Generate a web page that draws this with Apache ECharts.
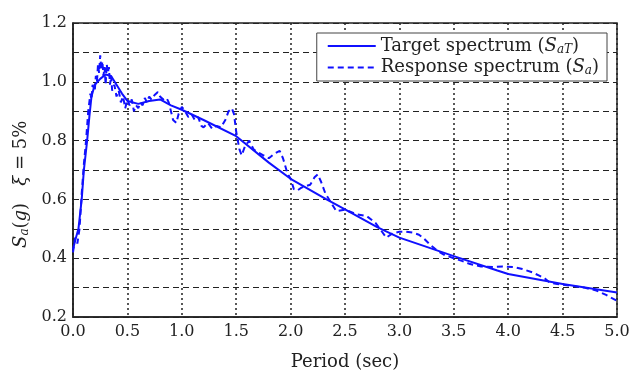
<!DOCTYPE html>
<html>
<head>
<meta charset="utf-8">
<script src="https://cdn.jsdelivr.net/npm/echarts@6/dist/echarts.min.js"></script>
<style>html,body{margin:0;padding:0;background:#fff}#c{width:638px;height:376px}</style>
</head>
<body>
<div id="c"></div>
<script>
// Target spectrum (solid)
const targetT = [0, 0.02, 0.05, 0.08, 0.1, 0.13, 0.15, 0.17, 0.2, 0.25, 0.3, 0.35, 0.4, 0.45, 0.5, 0.6, 0.7, 0.8, 0.9, 1.0, 1.2, 1.5, 1.8, 2.0, 2.33, 2.5, 2.8, 3.0, 3.5, 3.9, 4.0, 4.5, 5.0];
const targetV = [0.43, 0.46, 0.50, 0.60, 0.70, 0.80, 0.88, 0.95, 0.99, 1.01, 1.025, 1.02, 0.99, 0.96, 0.935, 0.925, 0.935, 0.94, 0.92, 0.905, 0.87, 0.815, 0.725, 0.67, 0.60, 0.566, 0.505, 0.47, 0.407, 0.358, 0.346, 0.312, 0.283];
// Response spectrum (dashed)
const respT = [0.00,0.02,0.04,0.06,0.08,0.10,0.12,0.14,0.16,0.17,0.18,0.20,0.21,0.22,0.23,0.24,0.25,0.26,0.27,0.28,0.29,0.30,0.31,0.32,0.33,0.34,0.35,0.36,0.38,0.40,0.42,0.44,0.46,0.48,0.50,0.52,0.54,0.56,0.58,0.60,0.62,0.64,0.66,0.68,0.70,0.72,0.75,0.78,0.80,0.83,0.86,0.88,0.90,0.92,0.95,0.97,1.00,1.03,1.06,1.09,1.12,1.15,1.18,1.20,1.24,1.28,1.32,1.36,1.40,1.43,1.46,1.48,1.50,1.53,1.55,1.58,1.62,1.66,1.70,1.75,1.80,1.85,1.90,1.93,1.97,2.00,2.03,2.06,2.10,2.14,2.18,2.22,2.25,2.28,2.32,2.37,2.42,2.50,2.60,2.70,2.78,2.84,2.88,2.94,3.00,3.06,3.12,3.18,3.23,3.28,3.35,3.42,3.50,3.58,3.65,3.75,3.86,3.95,4.05,4.13,4.22,4.29,4.34,4.38,4.45,4.50,4.60,4.70,4.81,4.90,5.00];
const respV = [0.42,0.47,0.45,0.50,0.62,0.72,0.80,0.90,0.96,0.94,0.99,0.97,1.02,1.00,1.06,1.03,1.09,1.04,1.07,1.02,1.05,0.99,1.06,1.03,1.05,0.99,1.02,0.97,0.99,0.95,0.97,0.93,0.95,0.91,0.94,0.92,0.94,0.90,0.92,0.91,0.93,0.92,0.945,0.93,0.95,0.94,0.955,0.965,0.95,0.94,0.945,0.93,0.90,0.87,0.86,0.89,0.915,0.90,0.88,0.89,0.87,0.88,0.85,0.845,0.86,0.84,0.85,0.845,0.87,0.90,0.91,0.89,0.83,0.77,0.75,0.78,0.80,0.77,0.76,0.75,0.74,0.755,0.765,0.74,0.69,0.67,0.635,0.63,0.64,0.645,0.65,0.675,0.685,0.66,0.62,0.59,0.56,0.565,0.55,0.543,0.52,0.49,0.47,0.485,0.49,0.49,0.487,0.48,0.465,0.447,0.425,0.41,0.40,0.39,0.38,0.372,0.37,0.372,0.37,0.363,0.352,0.34,0.33,0.318,0.312,0.31,0.305,0.30,0.29,0.275,0.255];
const xTicks = [0, 0.5, 1.0, 1.5, 2.0, 2.5, 3.0, 3.5, 4.0, 4.5, 5.0];
const yTicks = [0.2, 0.4, 0.6, 0.8, 1.0, 1.2];

const FONT = '"DejaVu Serif", "Liberation Serif", serif';
const BLUE = '#1010ff';
const chart = echarts.init(document.getElementById('c'), null, {renderer: 'canvas'});
const zip = (a, b) => a.map((t, i) => [t, b[i]]);
const mkRich = (fs) => ({
  i: {fontFamily: FONT, fontStyle: 'italic', fontSize: fs, color: '#222'},
  s: {fontFamily: FONT, fontStyle: 'italic', fontSize: Math.round(fs * 0.68), color: '#222', verticalAlign: 'bottom', padding: [Math.round(fs * 0.4), 0, 0, 0]},
  t: {fontFamily: FONT, fontSize: fs, color: '#222'}
});
chart.setOption({
  animation: false,
  backgroundColor: '#fff',
  grid: {left: 73, right: 21, top: 23, bottom: 58, show: true, borderColor: '#222', borderWidth: 1.5, backgroundColor: 'transparent'},
  legend: {
    right: 31, top: 33,
    orient: 'vertical',
    backgroundColor: '#fff',
    borderColor: '#444', borderWidth: 1,
    borderRadius: 0,
    padding: [4, 8, 4, 10],
    itemGap: 3,
    itemWidth: 48, itemHeight: 20,
    itemTextGap: 7,
    itemStyle: {opacity: 0},
    data: ['Target', 'Response'],
    textStyle: {fontFamily: FONT, fontSize: 18, color: '#222', rich: mkRich(18)},
    formatter: n => n === 'Target'
      ? '{t|Target spectrum (}{i|S}{s|aT}{t|)}'
      : '{t|Response spectrum (}{i|S}{s|a}{t|)}'
  },
  xAxis: {
    type: 'value', min: 0, max: 5, interval: 0.5,
    name: 'Period (sec)', nameLocation: 'middle', nameGap: 36,
    nameTextStyle: {fontFamily: FONT, fontSize: 18, color: '#222'},
    axisLine: {lineStyle: {color: '#222', width: 1.5}},
    axisTick: {show: false},
    axisLabel: {fontFamily: FONT, fontSize: 16, color: '#222', margin: 7,
      formatter: v => xTicks.some(t => Math.abs(t - v) < 1e-6) ? v.toFixed(1) : ''},
    splitLine: {show: true, lineStyle: {color: '#222', type: [2, 3], width: 1.5}}
  },
  yAxis: {
    type: 'value', min: 0.2, max: 1.2, interval: 0.1,
    name: '{i|S}{s|a}{t|(}{i|g}{t|)}{t|   }{i|ξ}{t| = 5%     }', nameLocation: 'middle', nameGap: 32, nameRotate: 90,
    nameTextStyle: {fontFamily: FONT, fontSize: 18, color: '#222', rich: mkRich(18)},
    axisLine: {lineStyle: {color: '#222', width: 1.5}},
    axisTick: {show: false},
    axisLabel: {fontFamily: FONT, fontSize: 16, color: '#222', margin: 6,
      formatter: v => yTicks.some(t => Math.abs(t - v) < 1e-6) ? v.toFixed(1) : ''},
    splitLine: {show: true, lineStyle: {color: '#222', type: [6, 4], width: 1.2}}
  },
  series: [
    {name: 'Target', type: 'line', data: zip(targetT, targetV), showSymbol: false, symbol: 'none',
      lineStyle: {color: BLUE, width: 2}, itemStyle: {color: BLUE}, z: 3},
    {name: 'Response', type: 'line', data: zip(respT, respV), showSymbol: false, symbol: 'none',
      lineStyle: {color: BLUE, width: 2, type: [6, 4]}, itemStyle: {color: BLUE}, z: 4}
  ]
});
</script>
</body>
</html>
